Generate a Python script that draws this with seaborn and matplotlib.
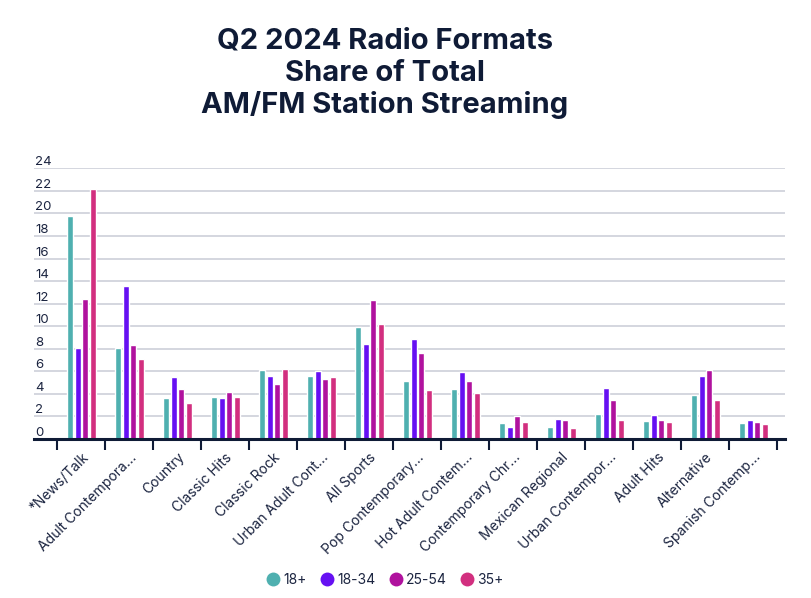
import matplotlib
matplotlib.use("Agg")
import matplotlib.pyplot as plt
import seaborn as sns
import pandas as pd
from matplotlib.lines import Line2D
from matplotlib.ticker import FixedLocator, NullFormatter

categories = ["*News/Talk", "Adult Contempora...", "Country", "Classic Hits", "Classic Rock",
              "Urban Adult Cont...", "All Sports", "Pop Contemporary...", "Hot Adult Contem...",
              "Contemporary Chr...", "Mexican Regional", "Urban Contempor...", "Adult Hits",
              "Alternative", "Spanish Contemp..."]
s_18plus = [19.8, 8.1, 3.6, 3.7, 6.1, 5.6, 9.9, 5.1, 4.4, 1.4, 1.1, 2.2, 1.6, 3.9, 1.4]
s_18_34 = [8.1, 13.6, 5.5, 3.6, 5.6, 6.0, 8.4, 8.9, 5.9, 1.1, 1.8, 4.5, 2.1, 5.6, 1.7]
s_25_54 = [12.4, 8.3, 4.4, 4.2, 4.9, 5.3, 12.3, 7.6, 5.1, 2.0, 1.7, 3.5, 1.7, 6.1, 1.5]
s_35plus = [22.2, 7.1, 3.2, 3.7, 6.2, 5.5, 10.2, 4.3, 4.1, 1.5, 1.0, 1.7, 1.5, 3.5, 1.3]
series_names = ["18+", "18-34", "25-54", "35+"]
y_ticks = [0, 2, 4, 6, 8, 10, 12, 14, 16, 18, 20, 22, 24]

colors = ["#4fb0b0", "#6610f2", "#b0129e", "#d22f7f"]
navy = "#0f1b36"
text_col = "#1b2440"

rows = []
for name, vals in zip(series_names, [s_18plus, s_18_34, s_25_54, s_35plus]):
    for c, v in zip(categories, vals):
        rows.append({"format": c, "group": name, "share": v})
df = pd.DataFrame(rows)

sns.set_theme(style="white")
plt.rcParams["font.family"] = ["Inter", "DejaVu Sans"]
plt.rcParams["xtick.bottom"] = True

fig = plt.figure(figsize=(8.12, 5.98), dpi=100)
ax = fig.add_axes([34 / 812, 1 - 439 / 598, (785 - 34) / 812, (439 - 168.3) / 598])

sns.barplot(data=df, x="format", y="share", hue="group", order=categories,
            hue_order=series_names, palette=colors, width=0.625, gap=0.2,
            saturation=1, ax=ax, legend=False, zorder=2)

ax.set_xlim(-0.985, 14.66)
ax.set_ylim(0, 24)
ax.set_xlabel("")
ax.set_ylabel("")

# grid
ax.set_yticks(y_ticks)
ax.set_yticklabels([str(t) for t in y_ticks])
ax.yaxis.grid(True, color="#c9ccd6", linewidth=1.1, zorder=0)
ax.xaxis.grid(False)
ax.set_axisbelow(True)
for lab in ax.get_yticklabels():
    lab.set_horizontalalignment("left")
    lab.set_verticalalignment("bottom")
ax.tick_params(axis="y", length=0, pad=-1, labelsize=9.5, labelcolor=text_col)

# x ticks: major ticks at category boundaries (marks), minor ticks at centers (labels)
ax.xaxis.set_major_locator(FixedLocator([i - 0.5 for i in range(len(categories) + 1)]))
ax.xaxis.set_major_formatter(NullFormatter())
ax.xaxis.set_minor_locator(FixedLocator(list(range(len(categories)))))
ax.set_xticklabels(categories, minor=True, rotation=45, ha="right", va="top",
                   rotation_mode="anchor")
ax.tick_params(axis="x", which="major", bottom=True, length=8, width=1.5, color=navy,
               direction="out")
ax.tick_params(axis="x", which="minor", bottom=True, length=0, pad=8, labelsize=10,
               labelcolor=text_col)

for sp in ["top", "right", "left"]:
    ax.spines[sp].set_visible(False)
ax.spines["bottom"].set_color(navy)
ax.spines["bottom"].set_linewidth(2.2)
ax.spines["bottom"].set_zorder(5)

fig.text(385 / 812, 1 - 28 / 598, "Q2 2024 Radio Formats\nShare of Total\nAM/FM Station Streaming",
         ha="center", va="top", fontsize=21, fontweight="bold", color=navy, linespacing=1.22)

handles = [Line2D([0], [0], marker="o", linestyle="", markersize=10, markerfacecolor=c,
                  markeredgewidth=0, label=n) for c, n in zip(colors, series_names)]
fig.legend(handles=handles, loc="center", bbox_to_anchor=(385 / 812, 1 - 580 / 598), ncol=4,
           frameon=False, fontsize=10, handletextpad=0.2, columnspacing=1.0,
           handlelength=1.0, labelcolor=text_col)

fig.savefig("out.png", dpi=100, facecolor="white")
